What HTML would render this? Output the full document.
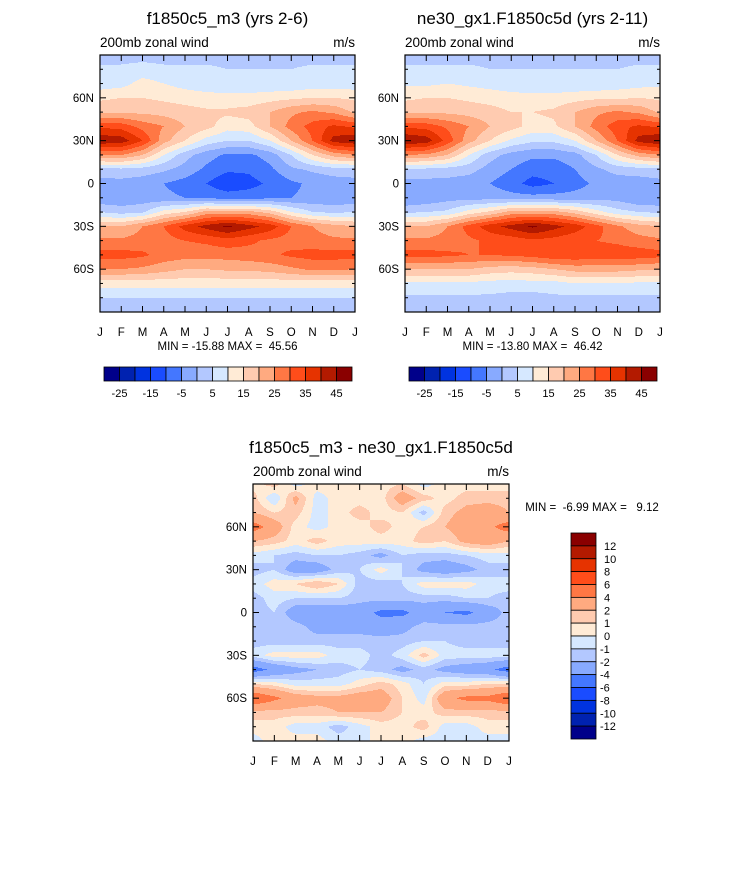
<!DOCTYPE html>
<html><head><meta charset="utf-8">
<style>
html,body{margin:0;padding:0;background:#fff;}
#wrap{position:relative;width:733px;height:869px;overflow:hidden;font-family:"Liberation Sans",Arial,sans-serif;}
svg{position:absolute;left:0;top:0;}
text{white-space:pre;}
</style></head>
<body>
<div id="wrap">
<svg id="ov" width="733" height="869"></svg>
</div>
<script>
// ---------- data ----------
const months = ["J","F","M","A","M","J","J","A","S","O","N","D","J"];
const lats = [90,80,70,60,50,40,30,20,10,0,-10,-20,-30,-40,-50,-60,-70,-80,-90];
const latTickLabels = ["60N","30N","0","30S","60S"];
const latTickValues = [60,30,0,-30,-60];
const windLevels = [-25,-20,-15,-10,-5,0,5,10,15,20,25,30,35,40,45];
const windBarLabels = ["-25","-15","-5","5","15","25","35","45"];
const diffLevels = [-12,-10,-8,-6,-4,-2,-1,0,1,2,4,6,8,10,12];
const diffBarLabels = ["12","10","8","6","4","2","1","0","-1","-2","-4","-6","-8","-10","-12"];
const palette = ["#00008a","#0022b0","#0033e0","#1a4cff","#4477ff","#88aaff","#b3c8ff","#d6e8ff","#ffebd6","#ffcbb0","#ffaa80","#ff7744","#ff4d1a","#e63300","#b31a00","#8a0000"];

const wind1 = [
[3,3,3,3,3,3,3,3,3,3,3,3,3],
[6,6,7,6,6,6,5,5,5,5,6,6,6],
[7,8,12,10,8,7,6,6,6,6,7,7,7],
[14,15,15,14,13,12,12,12,13,14,15,15,14],
[19,19,19,18,17,16,16,17,20,24,26,24,19],
[34,33,28,25,20,17,12,13,20,27,32,36,34],
[44,43,35,22,15,8,5,5,10,20,30,42,44],
[25,25,20,10,2,-3,-6,-6,-3,5,15,22,25],
[3,4,3,1,-2,-6,-9,-9,-6,-1,1,3,3],
[-2,-2,-3,-5,-7,-10,-14,-12,-9,-6,-4,-3,-2],
[-4,-4,-3,-4,-5,-6,-7,-7,-6,-5,-4,-4,-4],
[5,3,4,12,15,22,22,22,18,10,5,4,5],
[20,20,25,30,37,42,46,42,38,30,25,22,20],
[26,26,27,28,30,31,33,31,29,28,27,26,26],
[32,32,31,28,27,27,27,28,29,31,32,32,32],
[25,25,24,22,20,20,21,21,22,24,26,26,25],
[12,12,12,12,12,12,12,12,12,12,12,12,12],
[5,5,5,5,5,5,5,5,5,5,5,5,5],
[2,2,2,2,2,2,2,2,1,2,2,2,2]];

const wind2 = [
[3,3,3,3,3,3,3,3,3,3,3,3,3],
[6,6,6,6,5,5,5,5,5,5,5,6,6],
[9,9,10,9,8,7,6,6,6,6,7,8,9],
[14,15,15,14,13,12,12,12,13,14,14,15,14],
[19,19,19,18,17,15,15,16,20,24,26,24,19],
[34,33,29,25,20,17,13,14,20,27,33,36,34],
[45,43,33,22,15,9,6,6,10,20,30,42,45],
[25,24,20,10,2,-2,-4,-4,-2,5,15,22,25],
[4,4,3,2,-2,-5,-8,-8,-5,-1,2,3,4],
[-2,-2,-2,-3,-5,-8,-12,-10,-7,-4,-3,-3,-2],
[-5,-4,-2,-2,-2,-3,-3,-3,-3,-2,-2,-5,-5],
[4,5,6,12,16,22,22,22,18,12,7,5,4],
[20,20,25,32,38,42,46,42,38,32,26,22,20],
[26,26,27,29,31,32,34,33,31,30,29,27,26],
[32,32,31,30,30,31,32,34,34,33,33,33,32],
[20,20,20,20,18,17,18,20,22,22,22,21,20],
[9,9,9,9,8,8,8,8,10,10,10,9,9],
[4,4,4,4,4,3,3,4,4,4,4,4,4],
[2,2,2,2,2,2,2,2,2,2,2,2,2]];

const diff = [
[0.5,1.5,-0.5,0.5,0.5,0.5,0.5,1,-0.5,0.5,0.5,0.5,0.5],
[1.5,-1,2.5,-0.5,0.5,0.5,0.5,3,1.5,0.5,1.5,1.5,1.5],
[2,1,1.5,-0.5,0.5,1.5,0.5,1,-1.5,1.5,2.5,3,2],
[5,3,0.5,-0.5,0.5,0.5,1.5,0.5,1,2,3,3.5,5],
[2,1.5,0.5,1.5,0.5,0.5,0.5,0.5,1.5,1,2.5,3,2],
[-0.5,-1,-1.5,-1,-1,-1.5,-2.5,-1,-1.5,-1.5,-1,-0.5,-0.5],
[-1.5,-1,-3,-3,-1.5,-1,0.5,-1,-2.5,-3,-2.5,-1.5,-1.5],
[-0.5,0.5,1,2,1,-1.5,-1.5,-1,0.5,0.5,0.5,-0.5,-0.5],
[-1.5,-0.5,-1,-1,-1,-1.5,-1.5,-1.5,-1.5,-1.5,-1,-1,-1.5],
[-1.5,-1,-3,-3,-3,-3,-4.5,-4.5,-3,-4,-4.5,-3,-1.5],
[-1.5,-1,-1.5,-2.5,-2.5,-2.5,-3,-2.5,-1.5,-1.5,-1.5,-1.5,-1.5],
[-1.5,-1.5,-1.5,-1.5,-1.5,-1.5,-1.5,-1.5,-1,-1,-1.5,-1.5,-1.5],
[-0.5,0.5,0.5,0.5,-0.5,-0.5,-1.5,-0.5,1.5,-0.5,-0.5,-0.5,-0.5],
[-5,-3.5,-2.5,-2,-1.5,-1,-1.5,-2.5,-1.5,-2.5,-3,-3.5,-5],
[1,0.5,-0.5,-0.5,-0.5,0.5,1.5,0.5,-1,0.5,0.5,1,1],
[6,4.5,3,2.5,2.5,3,3,1,-0.5,3.5,4.5,4.5,6],
[1.5,1.5,1.5,1.5,2,2,2,1,0.5,1.5,1.5,1.5,1.5],
[0.5,0.5,-0.5,-0.5,-1.5,-0.5,0.5,0.5,1.5,-0.5,-0.5,0.5,0.5],
[-0.5,0.5,0.5,0.5,-0.5,-0.5,0.5,0.5,-0.5,-0.5,-0.5,-0.5,-0.5]];

// ---------- layout ----------
const panels = [
 {x0:100,x1:355,y0:55,y1:312,data:wind1,levels:windLevels,title:"f1850c5_m3 (yrs 2-6)",minmax:"MIN = -15.88 MAX =  45.56",name:"panel-1"},
 {x0:405,x1:660,y0:55,y1:312,data:wind2,levels:windLevels,title:"ne30_gx1.F1850c5d (yrs 2-11)",minmax:"MIN = -13.80 MAX =  46.42",name:"panel-2"},
 {x0:253,x1:509,y0:484,y1:741,data:diff,levels:diffLevels,title:"f1850c5_m3 - ne30_gx1.F1850c5d",minmax:"MIN =  -6.99 MAX =   9.12",name:"panel-diff"}
];
const NS="http://www.w3.org/2000/svg";
const ov=document.getElementById("ov");
function mk(tag,attrs,parent){const e=document.createElementNS(NS,tag);for(const k in attrs)e.setAttribute(k,attrs[k]);(parent||ov).appendChild(e);return e;}
function bin(v,levels){let i=0;while(i<levels.length&&v>=levels[i])i++;return i;}

panels.forEach(p=>{
  const W=p.x1-p.x0,H=p.y1-p.y0;
  const xS=m=>p.x0+m/12*W, yS=l=>p.y0+(90-l)/180*H;
  const fg=mk("g",{"shape-rendering":"crispEdges"});
  
  
  const d=p.data,nr=d.length,nc=d[0].length;
  let path={};
  for(let py=0;py<H;py++){
    const fr=(py+0.5)/H*(nr-1);const r0=Math.min(nr-2,Math.floor(fr));const tr=fr-r0;
    let runStart=0,runBin=-1;
    for(let px=0;px<=W;px++){
      let b=-2;
      if(px<W){
        const fc=(px+0.5)/W*(nc-1);const c0=Math.min(nc-2,Math.floor(fc));const tc=fc-c0;
        const v=(d[r0][c0]*(1-tc)+d[r0][c0+1]*tc)*(1-tr)+(d[r0+1][c0]*(1-tc)+d[r0+1][c0+1]*tc)*tr;
        b=bin(v,p.levels);
      }
      if(b!==runBin){
        if(runBin>=0){
          path[runBin]=(path[runBin]||"")+"M"+(p.x0+runStart)+" "+(p.y0+py)+"h"+(px-runStart)+"v1h"+(runStart-px)+"z";
        }
        runBin=b;runStart=px;
      }
    }
  }
  for(const k in path){
    const e=mk("path",{d:path[k],fill:palette[k]},fg);
    
    
  }
  const g=mk("g",{});
  
  
  mk("rect",{x:p.x0,y:p.y0,width:W,height:H,fill:"none",stroke:"#000","stroke-width":1.2},g);
  for(let m=0;m<=12;m++){
    const x=xS(m);
    mk("line",{x1:x,x2:x,y1:p.y0,y2:p.y0+6,stroke:"#000"},g);
    mk("line",{x1:x,x2:x,y1:p.y1,y2:p.y1-6,stroke:"#000"},g);
    const t=mk("text",{x:x,y:p.y1+24,"text-anchor":"middle","font-size":11.5},g);t.textContent=months[m];
    
    
  }
  for(let l=-80;l<=80;l+=10){
    const y=yS(l);const major=(l%30===0);const len=major?6:3;
    mk("line",{x1:p.x0,x2:p.x0+len,y1:y,y2:y,stroke:"#000"},g);
    mk("line",{x1:p.x1,x2:p.x1-len,y1:y,y2:y,stroke:"#000"},g);
  }
  latTickValues.forEach((l,i)=>{
    const t=mk("text",{x:p.x0-6,y:yS(l)+4,"text-anchor":"end","font-size":11.5},g);t.textContent=latTickLabels[i];
    
    
  });
  const cx=(p.x0+p.x1)/2;
  const tt=mk("text",{x:cx,y:p.y0-31,"text-anchor":"middle","font-size":17},g);tt.textContent=p.title;
  
  
  const st=mk("text",{x:p.x0,y:p.y0-8,"font-size":13.5},g);st.textContent="200mb zonal wind";
  
  
  const un=mk("text",{x:p.x1,y:p.y0-8,"text-anchor":"end","font-size":13.5},g);un.textContent="m/s";
  
  
  let mmx=cx,mmy=p.y1+38;
  if(p.name==="panel-diff"){mmx=592;mmy=511;}
  const mm=mk("text",{x:mmx,y:mmy,"text-anchor":"middle","font-size":11.5},g);mm.textContent=p.minmax;
  
  
});

[[104,352],[409,657]].forEach((b,bi)=>{
  const g=mk("g",{});
  
  
  const w=(b[1]-b[0])/palette.length;
  palette.forEach((c,i)=>{mk("rect",{x:b[0]+i*w,y:367,width:w,height:14,fill:c,stroke:"#000","stroke-width":0.8},g);});
  windBarLabels.forEach(lab=>{
    const bIdx=windLevels.indexOf(parseFloat(lab))+1;
    const t=mk("text",{x:b[0]+bIdx*w,y:397,"text-anchor":"middle","font-size":11},g);t.textContent=lab;
    
    
  });
});
(function(){
  const g=mk("g",{});
  
  
  const y0=533,y1=739,x0=571,x1=596;const h=(y1-y0)/palette.length;
  palette.slice().reverse().forEach((c,i)=>{mk("rect",{x:x0,y:y0+i*h,width:x1-x0,height:h,fill:c,stroke:"#000","stroke-width":0.8},g);});
  diffBarLabels.forEach((lab,i)=>{
    const t=mk("text",{x:lab.startsWith("-")?600:604,y:y0+(i+1)*h+4,"font-size":11},g);t.textContent=lab;
    
    
  });
})();
</script>
</body></html>
